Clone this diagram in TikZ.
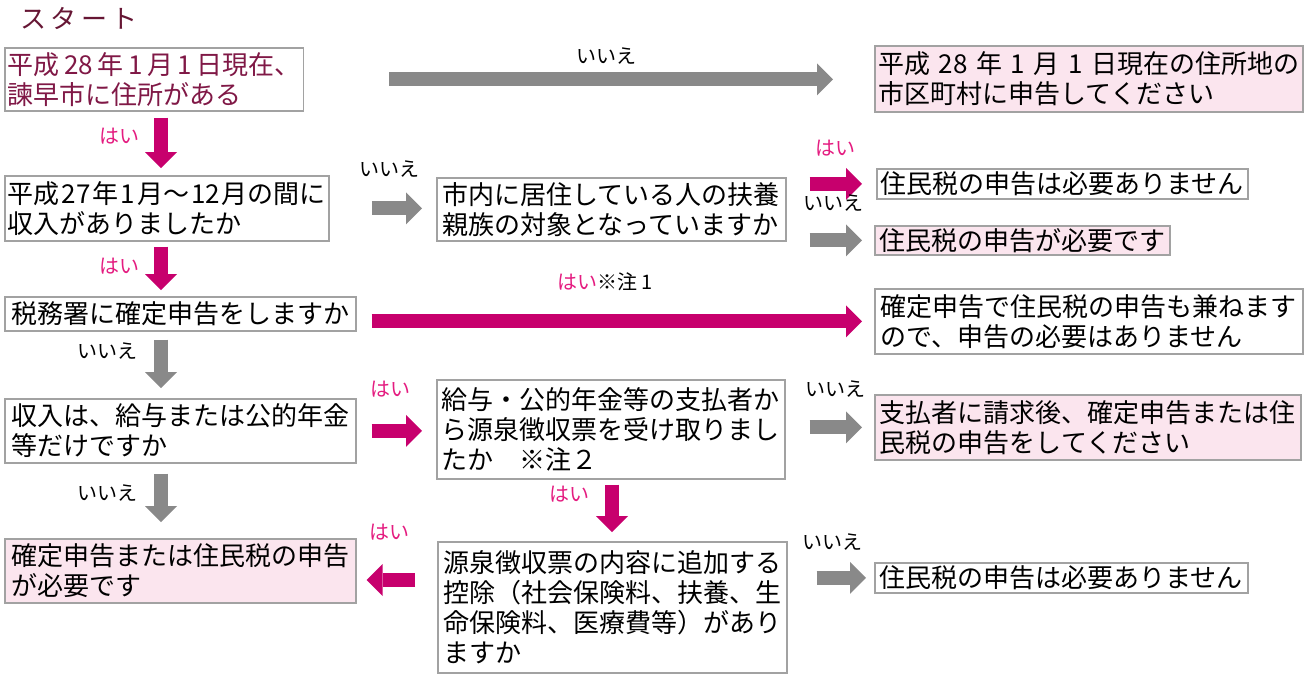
\documentclass[tikz,border=0pt]{standalone}
\usepackage{fontspec}
\setmainfont{Noto Sans CJK JP}
\usetikzlibrary{arrows.meta}

\definecolor{magarrow}{RGB}{199,0,109}
\definecolor{yespink}{RGB}{228,28,128}
\definecolor{grayarrow}{RGB}{137,137,137}
\definecolor{framegray}{RGB}{162,162,162}
\definecolor{pinkfill}{RGB}{251,229,238}
\definecolor{startred}{RGB}{102,22,52}
\definecolor{firstred}{RGB}{128,24,70}

\tikzset{
  box/.style={draw=framegray, line width=1.6pt, fill=white, anchor=north west,
    align=left, inner xsep=3pt, inner ysep=0pt, font=\fontsize{26}{30}\selectfont},
  result/.style={box, fill=pinkfill},
  gaps/.style={execute at begin node={\spaceskip=#1\relax}},
  yesarrow/.style={draw=magarrow, line width=14pt,
    -{Triangle[length=16pt,width=32pt,line width=0pt]}},
  noarrow/.style={draw=grayarrow, line width=14pt,
    -{Triangle[length=16pt,width=32pt,line width=0pt]}},
  yes/.style={text=yespink, inner sep=1pt, font=\fontsize{20}{22}\selectfont},
  no/.style={text=black, inner sep=1pt, font=\fontsize{20}{22}\selectfont}
}

\begin{document}
\begin{tikzpicture}[x=1pt,y=-1pt]
\useasboundingbox (0,0) rectangle (1314,673);

% Start
\node[text=startred, font=\fontsize{26}{30}\selectfont] (start) at (79,18) {ス\,タ\,ー\,ト};

% Questions down the left side
\node[box, gaps=4.5pt, text=firstred, minimum width=296pt, minimum height=63pt] (addr) at (4,47)
  {平成 28 年 1 月 1 日現在、\\諫早市に住所がある};
\node[box, gaps=2pt, minimum width=323pt, minimum height=65pt] (income) at (4,175)
  {平成 27 年 1 月〜 12 月の間に\\収入がありましたか};
\node[box, minimum width=351pt, minimum height=34pt] (taxoffice) at (4,296)
  {税務署に確定申告をしますか};
\node[box, minimum width=351pt, minimum height=64pt] (salary) at (4,398)
  {収入は、給与または公的年金\\等だけですか};
\node[result, minimum width=351pt, minimum height=64pt] (needfile) at (4,538)
  {確定申告または住民税の申告\\が必要です};

% Middle column
\node[box, minimum width=349pt, minimum height=63pt] (dependent) at (436,177)
  {市内に居住している人の扶養\\親族の対象となっていますか};
\node[box, minimum width=348pt, minimum height=99pt] (slip) at (436,379)
  {給与・公的年金等の支払者か\\ら源泉徴収票を受け取りまし\\たか　※注２};
\node[box, minimum width=349pt, minimum height=131pt] (deduct) at (437,541)
  {源泉徴収票の内容に追加する\\控除（社会保険料、扶養、生\\命保険料、医療費等）があり\\ますか};

% Answers on the right
\node[result, gaps=8.5pt, minimum width=428pt, minimum height=66pt] (moved) at (874,45)
  {平成 28 年 1 月 1 日現在の住所地の\\市区町村に申告してください};
\node[box, minimum width=371pt, minimum height=30pt] (nofile1) at (876,168)
  {住民税の申告は必要ありません};
\node[result, minimum width=295pt, minimum height=29pt] (needres) at (874,225)
  {住民税の申告が必要です};
\node[box, minimum width=428pt, minimum height=65pt] (covered) at (874,288)
  {確定申告で住民税の申告も兼ねます\\ので、申告の必要はありません};
\node[result, minimum width=426pt, minimum height=65pt] (askpayer) at (874,394)
  {支払者に請求後、確定申告または住\\民税の申告をしてください};
\node[box, minimum width=373pt, minimum height=30pt] (nofile2) at (874,562)
  {住民税の申告は必要ありません};

% Arrows
\draw[noarrow, shorten <=85pt, shorten >=41pt] (addr.east) -- (addr.east -| moved.west)
  node[no, pos=0.53, above=7pt] {いいえ};
\draw[yesarrow, shorten <=6pt, shorten >=7pt] (addr.south -| 161,0) -- (income.north -| 161,0)
  node[yes, pos=0.38, left=14pt] {はい};
\draw[noarrow, shorten <=42pt, shorten >=14pt] (income.east) -- (income.east -| dependent.west)
  node[no, pos=0.56, above=23pt] {いいえ};
\draw[yesarrow, shorten <=23pt, shorten >=14pt] (dependent.east |- nofile1.west) -- (nofile1.west)
  node[yes, pos=0.55, above=20pt] {はい};
\draw[noarrow, shorten <=23pt, shorten >=12pt] (dependent.east |- needres.west) -- (needres.west)
  node[no, pos=0.54, above=21pt] {いいえ};
\draw[yesarrow, shorten <=5pt, shorten >=6pt] (income.south -| 161,0) -- (taxoffice.north -| 161,0)
  node[yes, pos=0.45, left=14pt] {はい};
\draw[yesarrow, shorten <=15pt, shorten >=12pt] (covered.west -| taxoffice.east) -- (covered.west)
  node[no, pos=0.48, above=22pt] {\textcolor{yespink}{はい}※注 1};
\draw[noarrow, shorten <=8pt, shorten >=10pt] (taxoffice.south -| 161,0) -- (salary.north -| 161,0)
  node[no, pos=0.3, left=16pt] {いいえ};
\draw[yesarrow, shorten <=15pt, shorten >=14pt] (salary.east) -- (salary.east -| slip.west)
  node[yes, pos=0.43, above=26pt] {はい};
\draw[noarrow, shorten <=24pt, shorten >=12pt] (slip.east |- askpayer.west) -- (askpayer.west)
  node[no, pos=0.57, above=22pt] {いいえ};
\draw[noarrow, shorten <=10pt, shorten >=16pt] (salary.south -| 161,0) -- (needfile.north -| 161,0)
  node[no, pos=0.4, left=16pt] {いいえ};
\draw[yesarrow, shorten <=5pt, shorten >=9pt] (slip.south -| 612,0) -- (deduct.north -| 612,0)
  node[yes, pos=0.24, left=15pt] {はい};
\draw[yesarrow, shorten <=22pt, shorten >=10pt] (deduct.west |- 0,580) -- (needfile.east |- 0,580)
  node[yes, pos=0.59, above=32pt] {はい};
\draw[noarrow, shorten <=29pt, shorten >=8pt] (deduct.east |- nofile2.west) -- (nofile2.west)
  node[no, pos=0.52, above=19pt] {いいえ};

\end{tikzpicture}
\end{document}
